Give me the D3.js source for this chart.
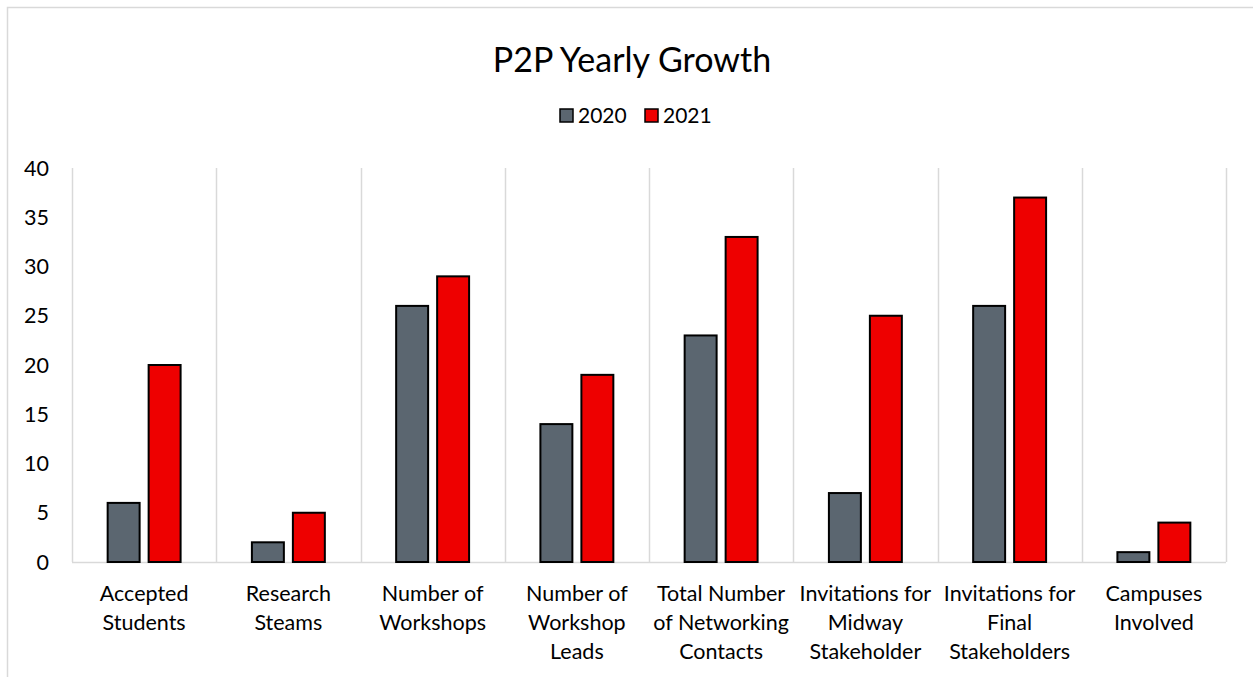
<!DOCTYPE html>
<html>
<head>
<meta charset="utf-8">
<script src="https://cdn.jsdelivr.net/npm/d3@7"></script>
<style>
  body { margin: 0; background: #fff; }
  svg { font-family: Lato, "Open Sans", sans-serif; }
</style>
</head>
<body>
<div id="chart"></div>
<script>
// data
var categories = [
  ["Accepted", "Students"],
  ["Research", "Steams"],
  ["Number of", "Workshops"],
  ["Number of", "Workshop", "Leads"],
  ["Total Number", "of Networking", "Contacts"],
  ["Invitations for", "Midway", "Stakeholder"],
  ["Invitations for", "Final", "Stakeholders"],
  ["Campuses", "Involved"]
];
var years = ["2020", "2021"];
var values2020 = [6, 2, 26, 14, 23, 7, 26, 1];
var values2021 = [20, 5, 29, 19, 33, 25, 37, 4];
var yTicks = [0, 5, 10, 15, 20, 25, 30, 35, 40];

var w = 1253, h = 677;
var colors = ["#5b6670", "#ee0000"];
var margin = {left: 72, right: 27, top: 168, bottom: 115};

var svg = d3.select("#chart").append("svg")
  .attr("width", w)
  .attr("height", h);

// outer frame (runs off the right/bottom)
svg.append("rect")
  .attr("x", 7.5).attr("y", 7.5)
  .attr("width", w + 20).attr("height", h + 20)
  .attr("fill", "none")
  .attr("stroke", "#d9d9d9")
  .attr("stroke-width", 1.5);

var x0 = d3.scaleBand()
  .domain(d3.range(categories.length))
  .range([margin.left, w - margin.right]);

var x1 = d3.scaleBand()
  .domain(years)
  .range([0, x0.bandwidth()])
  .paddingInner(0.22)
  .paddingOuter(0.87);

var y = d3.scaleLinear()
  .domain([0, 40])
  .range([h - margin.bottom, margin.top]);

// vertical separators between categories
var bounds = d3.range(categories.length + 1).map(function(i) {
  return i < categories.length ? x0(i) : x0(i - 1) + x0.bandwidth();
});
svg.selectAll(".sep")
  .data(bounds)
  .enter()
  .append("line")
  .attr("x1", function(d) { return Math.round(d) + 0.5; })
  .attr("x2", function(d) { return Math.round(d) + 0.5; })
  .attr("y1", y(40))
  .attr("y2", y(0))
  .attr("stroke", "#d9d9d9")
  .attr("stroke-width", 1.5);

// baseline
svg.append("line")
  .attr("x1", margin.left).attr("x2", w - margin.right)
  .attr("y1", y(0) + 0.5).attr("y2", y(0) + 0.5)
  .attr("stroke", "#d9d9d9")
  .attr("stroke-width", 1.5);

// y tick labels
svg.selectAll(".ytick")
  .data(yTicks)
  .enter()
  .append("text")
  .attr("x", 49)
  .attr("y", function(d) { return y(d); })
  .attr("dy", "0.35em")
  .attr("text-anchor", "end")
  .attr("font-size", 21.5)
  .attr("fill", "#000")
  .text(function(d) { return d; });

// bars
var series = [values2020, values2021];
var groups = svg.selectAll(".cat")
  .data(categories)
  .enter()
  .append("g")
  .attr("transform", function(d, i) { return "translate(" + x0(i) + ",0)"; });

groups.selectAll("rect")
  .data(function(d, i) {
    return years.map(function(yr, k) { return {year: yr, k: k, v: series[k][i]}; });
  })
  .enter()
  .append("rect")
  .attr("x", function(d) { return x1(d.year); })
  .attr("y", function(d) { return y(d.v); })
  .attr("width", x1.bandwidth())
  .attr("height", function(d) { return y(0) - y(d.v); })
  .attr("fill", function(d) { return colors[d.k]; })
  .attr("stroke", "#000")
  .attr("stroke-width", 2);

// category labels
groups.append("text")
  .attr("x", x0.bandwidth() / 2)
  .attr("y", 601)
  .attr("text-anchor", "middle")
  .attr("font-size", 21.5)
  .attr("fill", "#000")
  .selectAll("tspan")
  .data(function(d) { return d; })
  .enter()
  .append("tspan")
  .attr("x", x0.bandwidth() / 2)
  .attr("dy", function(d, i) { return i === 0 ? 0 : 29; })
  .text(function(d) { return d; });

// title
svg.append("text")
  .attr("x", 632)
  .attr("y", 72)
  .attr("text-anchor", "middle")
  .attr("font-size", 34)
  .attr("fill", "#000")
  .text("P2P Yearly Growth");

// legend
var legend = svg.append("g");
var legendX = [560, 645];
years.forEach(function(yr, k) {
  legend.append("rect")
    .attr("x", legendX[k]).attr("y", 109)
    .attr("width", 13).attr("height", 13)
    .attr("fill", colors[k])
    .attr("stroke", "#000")
    .attr("stroke-width", 1.5);
  legend.append("text")
    .attr("x", legendX[k] + 18).attr("y", 123)
    .attr("font-size", 21)
    .attr("fill", "#000")
    .text(yr);
});
</script>
</body>
</html>
